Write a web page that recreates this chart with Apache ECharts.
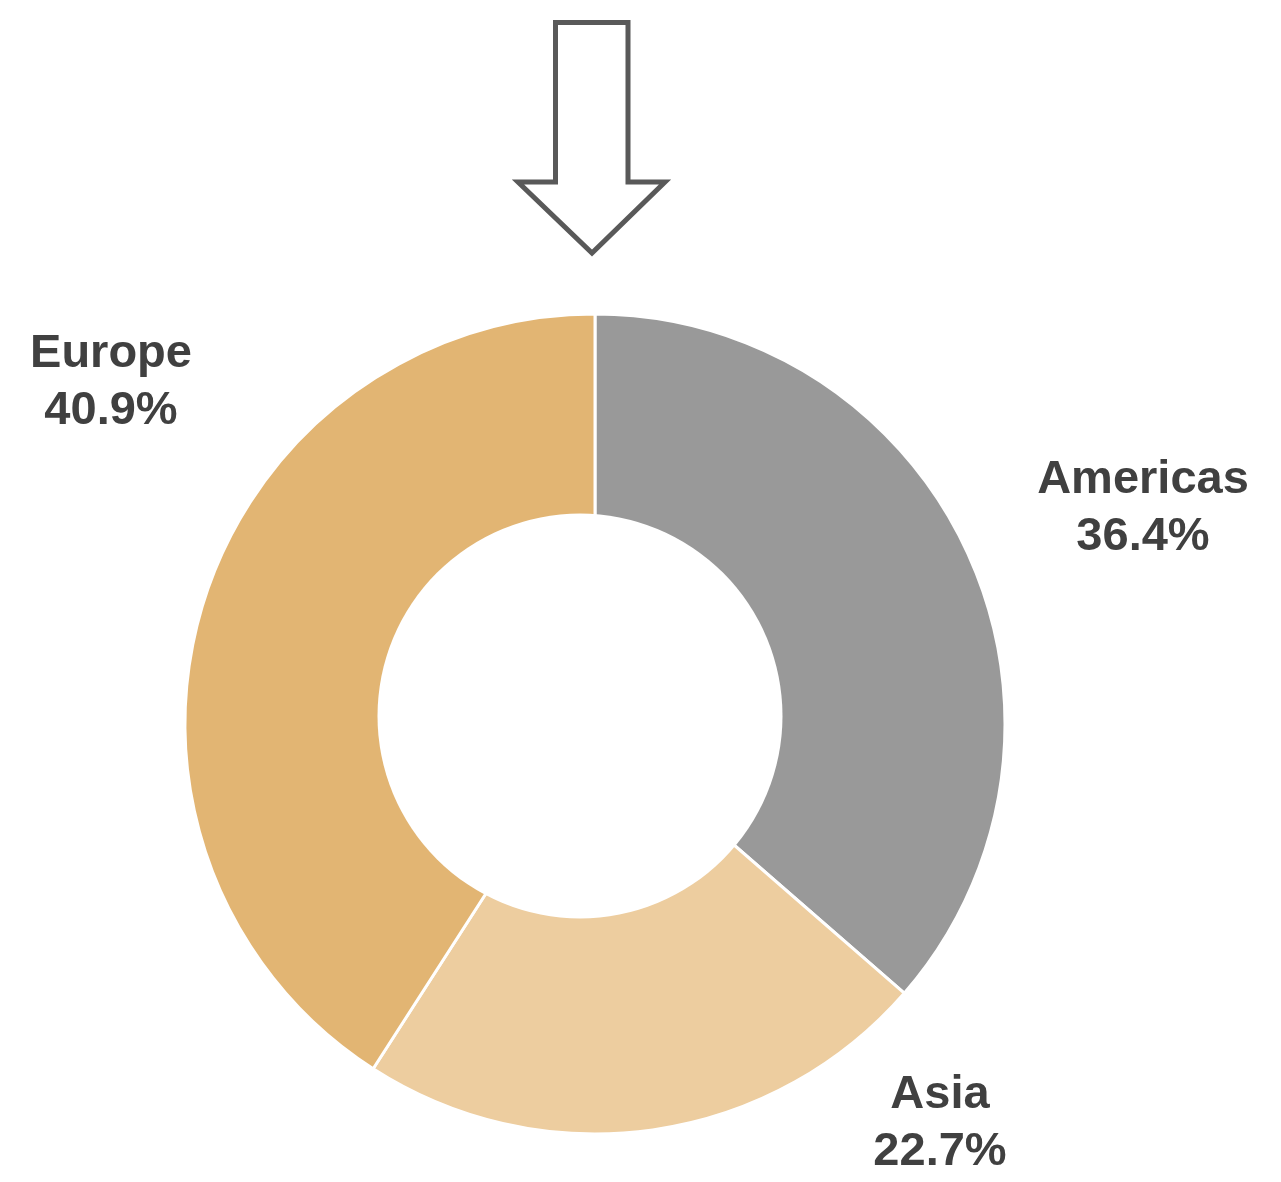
<!DOCTYPE html>
<html>
<head>
<meta charset="utf-8">
<title>Regional split</title>
<script src="https://cdn.jsdelivr.net/npm/echarts@6/dist/echarts.min.js"></script>
<style>
  html, body { margin: 0; padding: 0; background: #fff; }
  #chart { width: 1281px; height: 1182px; }
</style>
</head>
<body>
<div id="chart"></div>
<script>
// data
const regions = ['Americas', 'Asia', 'Europe'];
const shares = [36.4, 22.7, 40.9];
const regionColors = ['#999999', '#EDCD9F', '#E2B573'];

// where each label sits (centre of the text block)
const labelPos = [
    [1143, 509],
    [940, 1124],
    [111, 383]
];

const chart = echarts.init(document.getElementById('chart'));

const option = {
    animation: false,
    backgroundColor: '#ffffff',
    textStyle: { fontFamily: '"Liberation Sans", Arial, sans-serif' },
    graphic: [
        {
            // hollow arrow pointing at the top of the ring
            type: 'polygon',
            shape: {
                points: [
                    [555.5, 22.5], [628, 22.5], [628, 182], [665, 182],
                    [592, 253], [518, 182], [555.5, 182]
                ]
            },
            style: { fill: '#ffffff', stroke: '#595959', lineWidth: 5, lineJoin: 'miter' }
        },
        {
            // the doughnut hole sits a little off-centre in the original
            type: 'circle',
            shape: { cx: 580, cy: 716, r: 202.5 },
            style: { fill: '#ffffff' },
            z: 100
        }
    ],
    series: [
        {
            type: 'pie',
            center: [595, 724],
            radius: [0, 410],
            startAngle: 90,
            clockwise: true,
            avoidLabelOverlap: false,
            itemStyle: { borderColor: '#ffffff', borderWidth: 3 },
            label: {
                show: true,
                position: 'outside',
                formatter: p => p.name + '\n' + p.value.toFixed(1) + '%',
                color: '#404040',
                fontSize: 47,
                fontWeight: 'bold',
                lineHeight: 57,
                align: 'center'
            },
            labelLine: { show: false },
            labelLayout: params => ({
                x: labelPos[params.dataIndex][0],
                y: labelPos[params.dataIndex][1],
                align: 'center',
                verticalAlign: 'middle'
            }),
            emphasis: { disabled: true },
            data: regions.map((name, i) => ({
                name: name,
                value: shares[i],
                itemStyle: { color: regionColors[i] }
            }))
        }
    ]
};

chart.setOption(option);
</script>
</body>
</html>
